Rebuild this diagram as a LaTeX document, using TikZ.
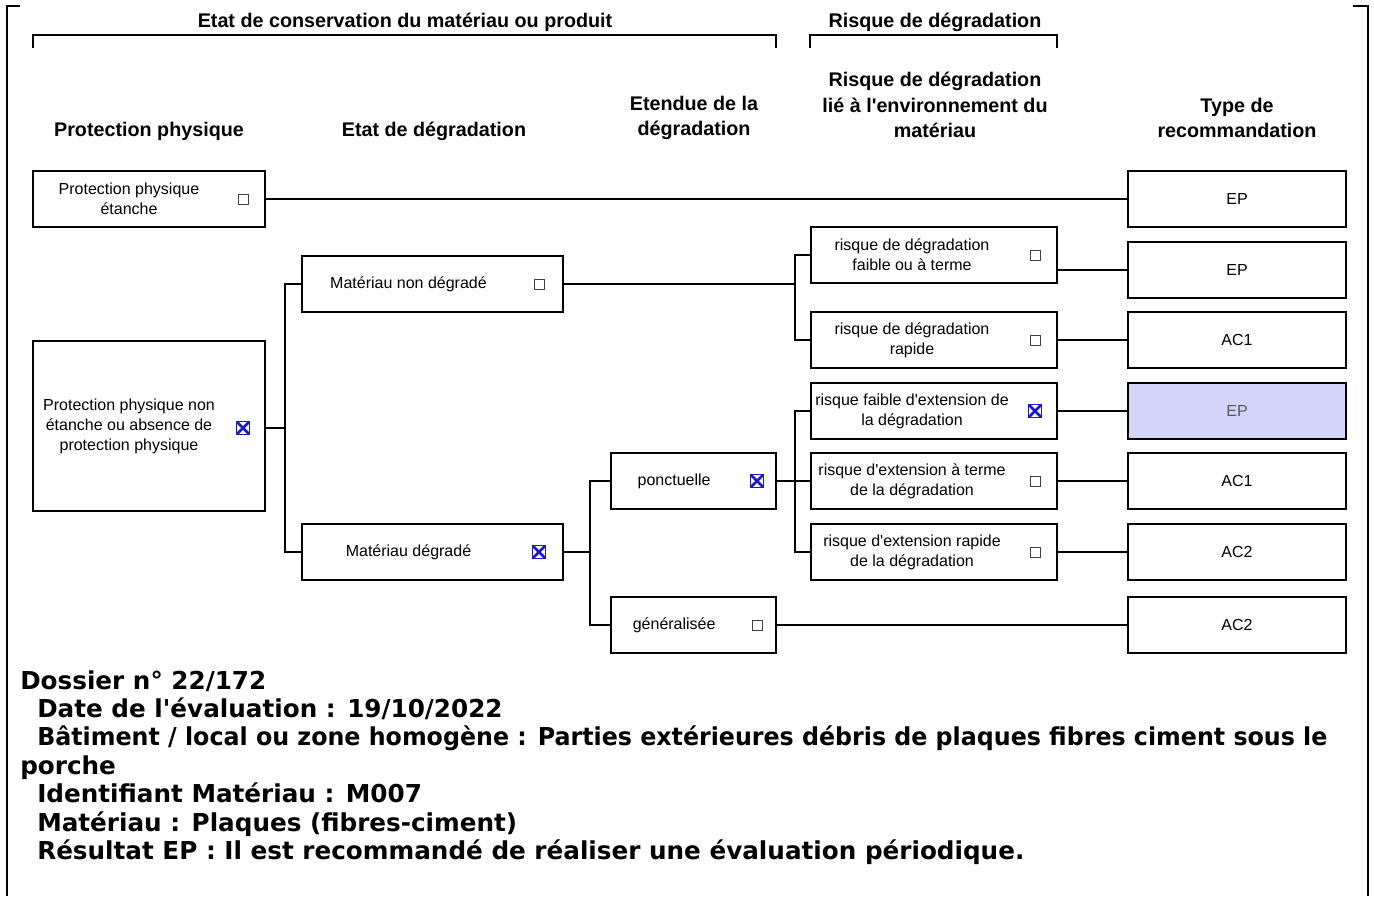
\documentclass[tikz,border=0pt]{standalone}
\usepackage{fontspec}
\setmainfont{Liberation Sans}
\newfontfamily\verdana{DejaVu Sans}
\usetikzlibrary{positioning}

\definecolor{tickblue}{RGB}{25,25,200}
\definecolor{epfill}{RGB}{212,212,250}

\tikzset{
  box/.style={draw, line width=1.4pt, outer sep=0pt, minimum height=42.5pt},
  colA/.style={box, minimum width=174pt},
  colB/.style={box, minimum width=195.75pt},
  colC/.style={box, minimum width=123.75pt},
  colD/.style={box, minimum width=184.5pt},
  colE/.style={box, minimum width=163.5pt},
  txt/.style={align=center, inner sep=0pt, font=\fontsize{12}{15}\selectfont},
  hdr/.style={align=center, inner sep=0pt, font=\bfseries\fontsize{14.8}{19.2}\selectfont},
  wire/.style={line width=1.4pt},
  chk/.style={draw=black!75, line width=0.7pt, minimum size=7.5pt, inner sep=0pt},
  chkx/.style={draw=tickblue, line width=0.8pt, minimum size=9.5pt, inner sep=0pt,
    path picture={\draw[tickblue, line width=2pt]
      (path picture bounding box.north west) -- (path picture bounding box.south east)
      (path picture bounding box.north east) -- (path picture bounding box.south west);}},
}
\newcommand{\apos}{\textquotesingle}

\begin{document}
\begin{tikzpicture}[x=0.75pt,y=0.75pt,yscale=-1,xscale=1]
\useasboundingbox (0,0) rectangle (1374,896);

%Frame
\draw [line width=2.2pt] (20,6) -- (7,6) -- (7,896) ;
\draw [line width=2.2pt] (1353,6) -- (1368,6) -- (1368,896) ;

%Brackets
\draw [line width=1.5pt] (33,48) -- (33,35) -- (776,35) -- (776,48) ;
\draw [line width=1.5pt] (810,48) -- (810,35) -- (1057,35) -- (1057,48) ;

% Titles
\node [hdr] (etat) at (405,22) {Etat de conservation du matériau ou produit};
\node [hdr] (risque) at (935,22) {Risque de dégradation};

% Column headers
\node [hdr] (hprot) at (149,131) {Protection physique};
\node [hdr] (hdegr) at (434,131) {Etat de dégradation};
\node [hdr] (hetend) at (694,118) {Etendue de la\\dégradation};
\node [hdr] (henv) at (935,105) {Risque de dégradation\\lié à l\apos environnement du\\matériau};
\node [hdr] (htype) at (1237,118) {Type de\\recommandation};

% Protection physique
\node [colA] (etanche) at (149,199) {};
\node [txt, xshift=-15pt] (etanchet) at (etanche) {Protection physique\\étanche};
\node [chk] (etanchec) at ([xshift=-16.5pt]etanche.east) {};
\node [colA, minimum height=127.5pt] (nonetanche) at (149,426) {};
\node [txt, xshift=-15pt] (nonetanchet) at (nonetanche) {Protection physique non\\étanche ou absence de\\protection physique};
\node [chkx] (nonetanchec) at ([xshift=-16.5pt, yshift=1.5pt]nonetanche.east) {};

% Etat de degradation
\node [colB] (nondegr) at (432.5,284) {};
\node [txt, xshift=-18pt] (nondegrt) at (nondegr) {Matériau non dégradé};
\node [chk] (nondegrc) at ([xshift=-18pt]nondegr.east) {};
\node [colB] (degr) at (432.5,552) {};
\node [txt, xshift=-18pt] (degrt) at (degr) {Matériau dégradé};
\node [chkx] (degrc) at ([xshift=-18pt]degr.east) {};

% Etendue
\node [colC] (ponct) at (693.5,481) {};
\node [txt, xshift=-14.5pt] (ponctt) at (ponct) {ponctuelle};
\node [chkx] (ponctc) at ([xshift=-14.25pt]ponct.east) {};
\node [colC] (gener) at (693.5,625) {};
\node [txt, xshift=-14.5pt] (genert) at (gener) {généralisée};
\node [chk] (generc) at ([xshift=-14.25pt]gener.east) {};

% Risque
\node [colD] (rfaible) at (934,255) {};
\node [txt, xshift=-16.5pt] (rfaiblet) at (rfaible) {risque de dégradation\\faible ou à terme};
\node [chk] (rfaiblec) at ([xshift=-16.5pt]rfaible.east) {};
\node [colD] (rrapide) at (934,340) {};
\node [txt, xshift=-16.5pt] (rrapidet) at (rrapide) {risque de dégradation\\rapide};
\node [chk] (rrapidec) at ([xshift=-16.5pt]rrapide.east) {};
\node [colD] (extfaible) at (934,411) {};
\node [txt, xshift=-16.5pt] (extfaiblet) at (extfaible) {risque faible d\apos extension de\\la dégradation};
\node [chkx] (extfaiblec) at ([xshift=-16.5pt]extfaible.east) {};
\node [colD] (extterme) at (934,481) {};
\node [txt, xshift=-16.5pt] (exttermet) at (extterme) {risque d\apos extension à terme\\de la dégradation};
\node [chk] (exttermec) at ([xshift=-16.5pt]extterme.east) {};
\node [colD] (extrapide) at (934,552) {};
\node [txt, xshift=-16.5pt] (extrapidet) at (extrapide) {risque d\apos extension rapide\\de la dégradation};
\node [chk] (extrapidec) at ([xshift=-16.5pt]extrapide.east) {};

% Type de recommandation
\node [colE, txt] (epa) at (1237,199) {EP};
\node [colE, txt] (epb) at (1237,270) {EP};
\node [colE, txt] (aca) at (1237,340) {AC1};
\node [colE, txt, fill=epfill, text=black!65] (epc) at (1237,411) {EP};
\node [colE, txt] (acb) at (1237,481) {AC1};
\node [colE, txt] (acc) at (1237,552) {AC2};
\node [colE, txt] (acd) at (1237,625) {AC2};

%Connectors
\draw [wire] (etanche.east) -- (epa.west) ;
\draw [wire] (nonetanche.east |- nonetanchec) -- ++(20,0) coordinate (jprot) ;
\draw [wire] (nondegr.west) -| (jprot) |- (degr.west) ;
\draw [wire] (nondegr.east) -- (795,284) coordinate (jnondegr) ;
\draw [wire] (rfaible.west) -| (jnondegr) |- (rrapide.west) ;
\draw [wire] (degr.east) -- ++(27,0) coordinate (jdegr) ;
\draw [wire] (ponct.west) -| (jdegr) |- (gener.west) ;
\draw [wire] (ponct.east) -- (extterme.west) ;
\draw [wire] (extfaible.west) -| (795,481) |- (extrapide.west) ;
\draw [wire] (epb.west -| rfaible.east) -- (epb.west) ;
\draw [wire] (rrapide.east) -- (aca.west) ;
\draw [wire] (extfaible.east) -- (epc.west) ;
\draw [wire] (extterme.east) -- (acb.west) ;
\draw [wire] (extrapide.east) -- (acc.west) ;
\draw [wire] (gener.east) -- (acd.west) ;

% Text Node
\node [anchor=north west, align=left, inner sep=0pt, font=\verdana\bfseries\fontsize{18.5}{21.3}\selectfont] (dossier) at (20,670) {Dossier n° 22/172\\
\hspace*{12.75pt}Date de l\apos évaluation : 19/10/2022\\
\hspace*{12.75pt}\scalebox{0.962}[1]{Bâtiment / local ou zone homogène : Parties extérieures débris de plaques fibres ciment sous le}\\
porche\\
\hspace*{12.75pt}Identifiant Matériau : M007\\
\hspace*{12.75pt}Matériau : Plaques (fibres-ciment)\\
\hspace*{12.75pt}Résultat EP : Il est recommandé de réaliser une évaluation périodique.};

\end{tikzpicture}
\end{document}
